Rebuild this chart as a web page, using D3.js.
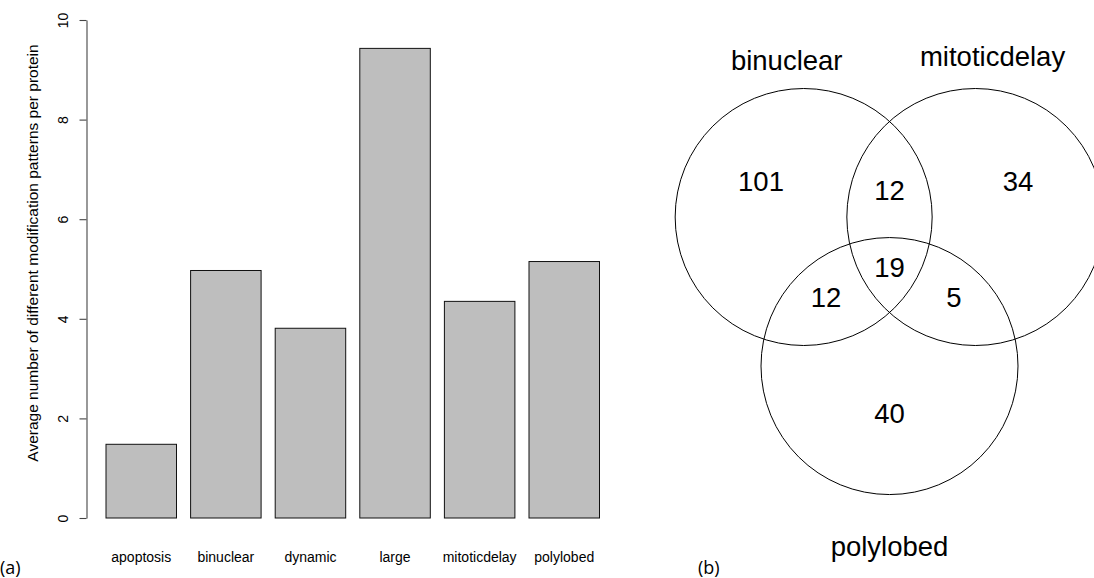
<!DOCTYPE html>
<html>
<head>
<meta charset="utf-8">
<script src="https://cdn.jsdelivr.net/npm/d3@7"></script>
<style>
  body { margin: 0; background: #fff; }
  svg { display: block; }
  text { font-family: "Liberation Sans", Arial, Helvetica, sans-serif; fill: #000; }
  .panel { font-family: "Open Sans", "Noto Sans", sans-serif; }
</style>
</head>
<body>
<div id="chart"></div>
<script>
// ---- (a) bar chart data
var categories = ["apoptosis", "binuclear", "dynamic", "large", "mitoticdelay", "polylobed"];
var avgPatterns = [1.48, 4.97, 3.81, 9.43, 4.35, 5.15];
var yTicks = [0, 2, 4, 6, 8, 10];
var yTitle = "Average number of different modification patterns per protein";

// ---- (b) venn data
var setNames = ["binuclear", "mitoticdelay", "polylobed"];
var regionSets = [["binuclear"], ["binuclear", "mitoticdelay"], ["mitoticdelay"],
                  ["binuclear", "mitoticdelay", "polylobed"], ["binuclear", "polylobed"],
                  ["mitoticdelay", "polylobed"], ["polylobed"]];
var regionCounts = [101, 12, 34, 19, 12, 5, 40];

// layout of the venn in circle-radius units (radius = 1)
var circleCenters = { binuclear: [-0.668, 0], mitoticdelay: [0.668, 0], polylobed: [0, 1.16] };
var regionAnchors = [[-1.0, -0.2], [0, -0.13], [1.0, -0.2], [0, 0.465], [-0.494, 0.698], [0.502, 0.698], [0, 1.6]];
var setLabelAnchors = [[-0.80, -1.145], [0.802, -1.175], [0, 2.64]];

var W = 1094, H = 578;
var svg = d3.select("#chart").append("svg").attr("width", W).attr("height", H);

// ===== panel (a)
var x = d3.scaleBand().domain(categories).range([106, 599.5]).paddingInner(1 / 6).paddingOuter(0);
var y = d3.scaleLinear().domain([0, 10]).range([518, 20]);

var ga = svg.append("g");

ga.selectAll("rect.bar")
  .data(categories)
  .enter().append("rect")
  .attr("class", "bar")
  .attr("x", function(d) { return x(d); })
  .attr("width", x.bandwidth())
  .attr("y", function(d, i) { return y(avgPatterns[i]); })
  .attr("height", function(d, i) { return y(0) - y(avgPatterns[i]); })
  .attr("fill", "#bebebe")
  .attr("stroke", "#111")
  .attr("stroke-width", 1);

var yAxis = d3.axisLeft(y).tickValues(yTicks).tickSize(7).tickSizeOuter(0).tickFormat(d3.format("d"));
var gy = ga.append("g").attr("transform", "translate(86.5,0)").call(yAxis);
gy.select(".domain").attr("stroke", "#444").attr("stroke-width", 1.1);
gy.selectAll(".tick line").attr("stroke", "#444").attr("stroke-width", 1.1);
gy.selectAll(".tick text")
  .attr("x", null).attr("dy", null)
  .attr("transform", "translate(-19,0) rotate(-90)")
  .attr("text-anchor", "middle")
  .attr("font-family", null)
  .style("font-size", "14px");

ga.append("text")
  .attr("transform", "translate(38,253) rotate(-90)")
  .attr("text-anchor", "middle")
  .style("font-size", "15.5px")
  .text(yTitle);

ga.selectAll("text.cat")
  .data(categories)
  .enter().append("text")
  .attr("class", "cat")
  .attr("x", function(d) { return x(d) + x.bandwidth() / 2; })
  .attr("y", 562)
  .attr("text-anchor", "middle")
  .style("font-size", "14px")
  .text(function(d) { return d; });

// ===== panel (b)
var R = 128.5;
var vx = d3.scaleLinear().domain([0, 1]).range([889.5, 889.5 + R]);
var vy = d3.scaleLinear().domain([0, 1]).range([217, 217 + R]);

var gb = svg.append("g");

gb.selectAll("circle")
  .data(setNames)
  .enter().append("circle")
  .attr("cx", function(d) { return vx(circleCenters[d][0]); })
  .attr("cy", function(d) { return vy(circleCenters[d][1]); })
  .attr("r", vx(1) - vx(0))
  .attr("fill", "none")
  .attr("stroke", "#000")
  .attr("stroke-width", 1);

gb.selectAll("text.count")
  .data(regionCounts)
  .enter().append("text")
  .attr("class", "count")
  .attr("x", function(d, i) { return vx(regionAnchors[i][0]); })
  .attr("y", function(d, i) { return vy(regionAnchors[i][1]); })
  .attr("text-anchor", "middle")
  .style("font-size", "27.5px")
  .text(function(d) { return d; });

gb.selectAll("text.setname")
  .data(setNames)
  .enter().append("text")
  .attr("class", "setname")
  .attr("x", function(d, i) { return vx(setLabelAnchors[i][0]); })
  .attr("y", function(d, i) { return vy(setLabelAnchors[i][1]); })
  .attr("text-anchor", "middle")
  .style("font-size", "27.5px")
  .text(function(d) { return d; });

// panel letters
svg.append("text").attr("class", "panel").attr("x", 0).attr("y", 574).style("font-size", "18px").text("(a)");
svg.append("text").attr("class", "panel").attr("x", 698).attr("y", 574).style("font-size", "18px").text("(b)");
</script>
</body>
</html>
